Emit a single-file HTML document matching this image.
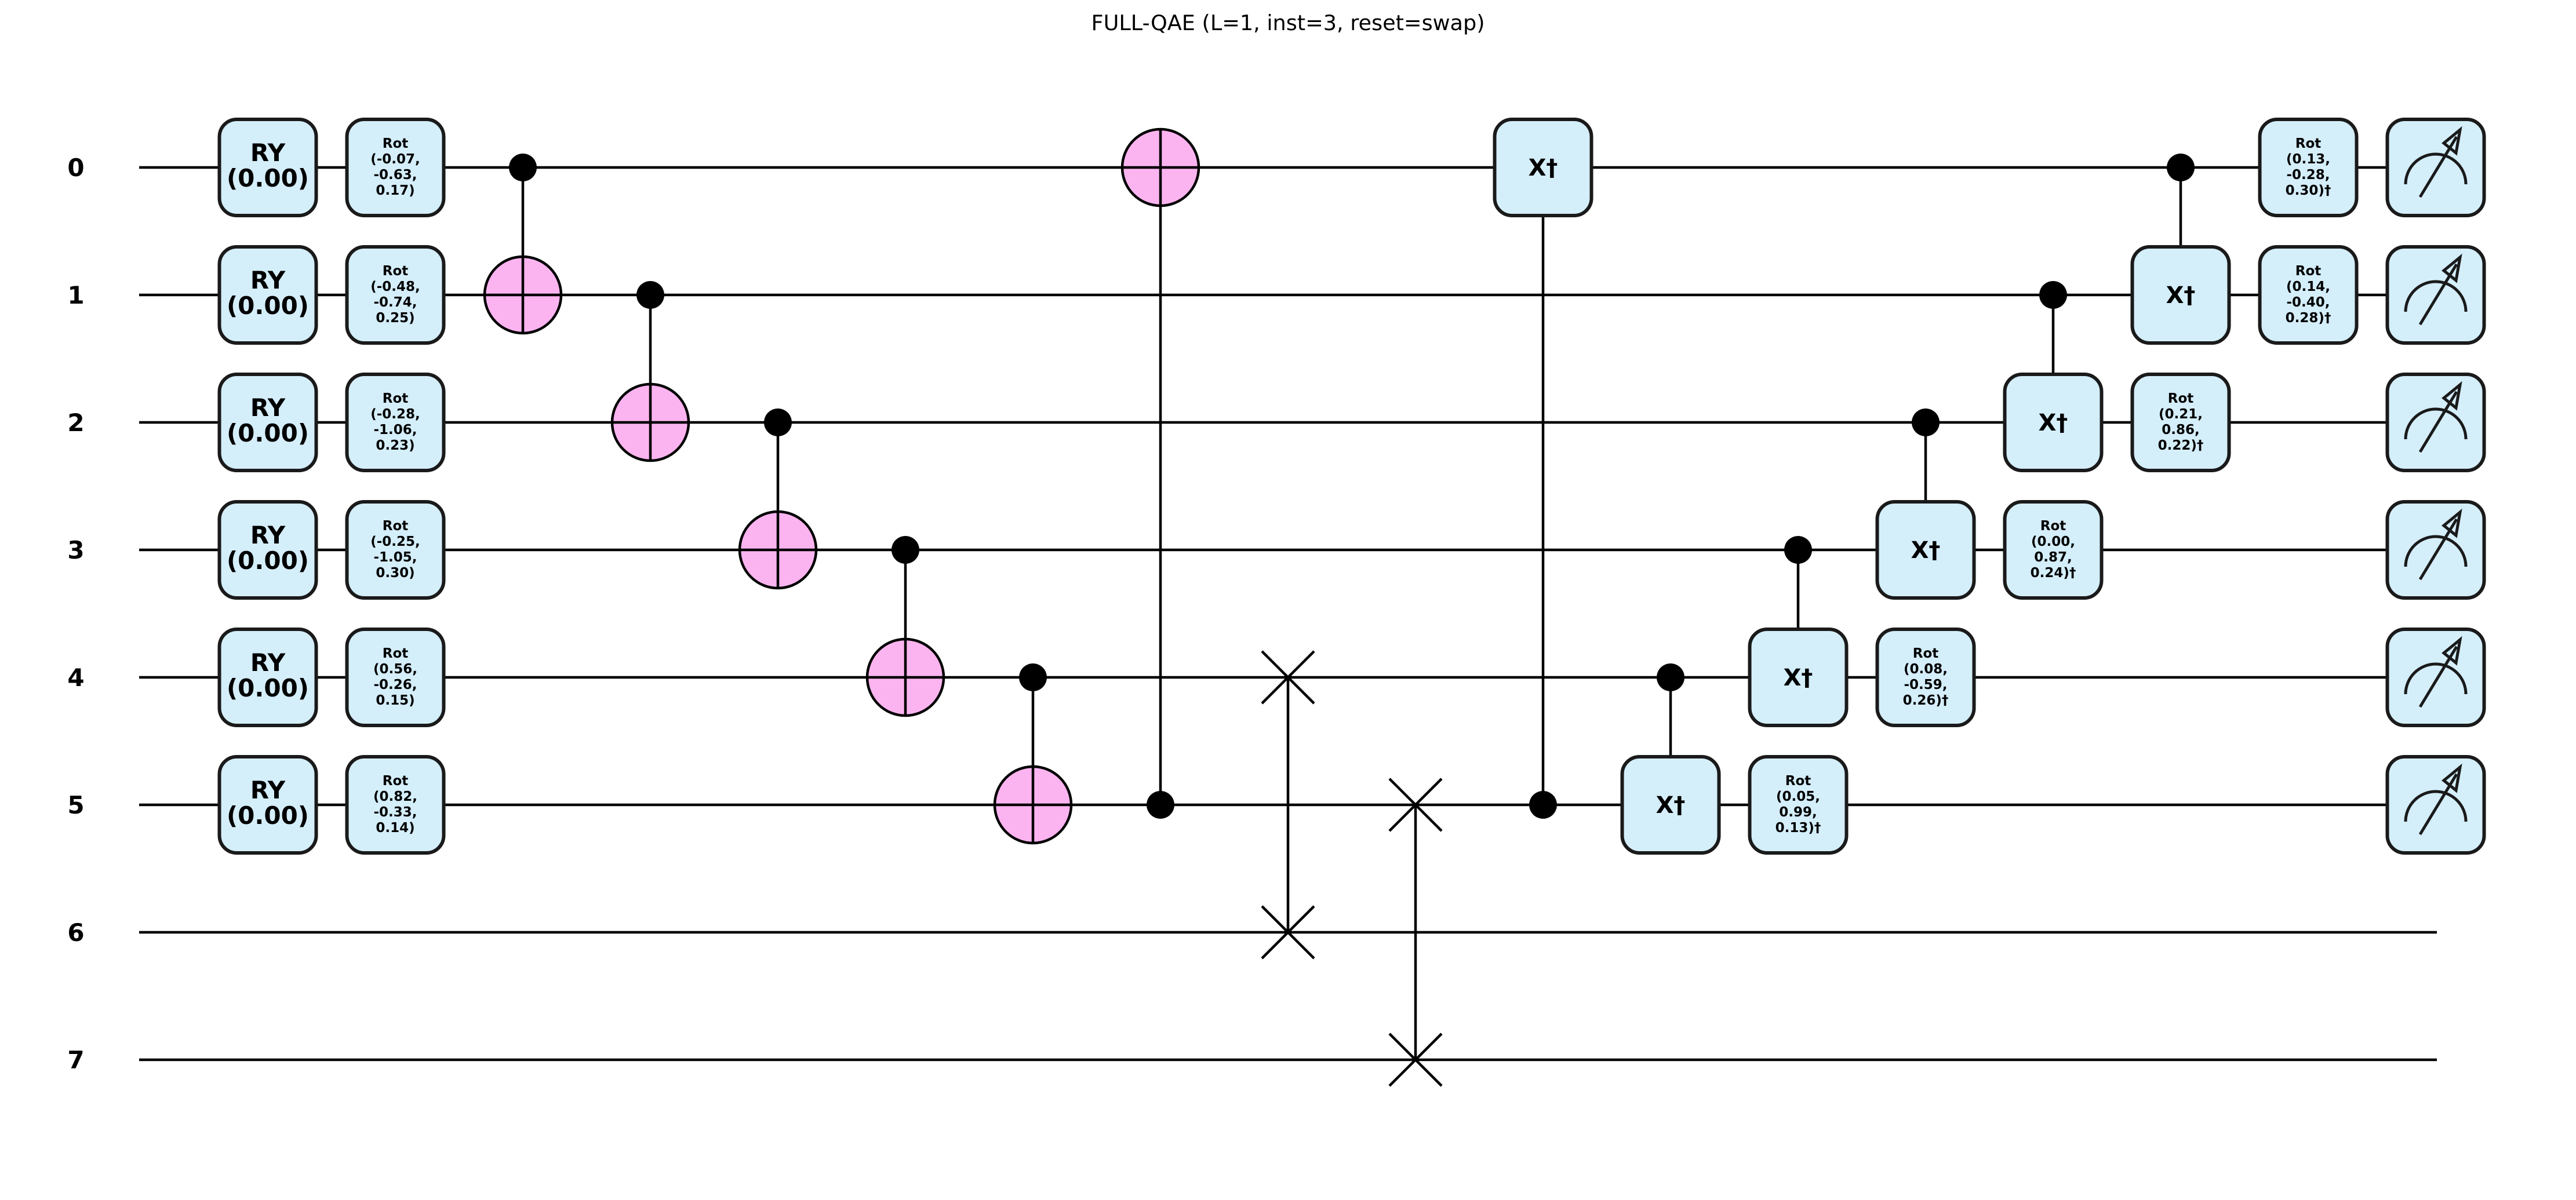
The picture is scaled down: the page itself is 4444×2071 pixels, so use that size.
<!DOCTYPE html>
<html><head><meta charset="utf-8"><style>
html,body{margin:0;padding:0;background:#fff}
svg{display:block}
text{font-family:"DejaVu Sans","Liberation Sans",sans-serif;fill:#000}
.b{fill:#d4eefa;stroke:#1a1a1a;stroke-width:6}
.w{stroke:#000;stroke-width:4.5;fill:none}
.t{fill:#fbb4f0;stroke:#000;stroke-width:4.5}
.lb{font-weight:bold;font-size:42px;text-anchor:middle}
.ry{font-weight:bold;font-size:42px;text-anchor:middle}
.rot{font-weight:bold;font-size:23px;text-anchor:middle}
.x{font-weight:bold;font-size:40px;text-anchor:middle}
.m{stroke:#1a1a1a;stroke-width:5;fill:none}
</style></head><body>
<svg width="4444" height="2071" viewBox="0 0 4444 2071" xmlns="http://www.w3.org/2000/svg">
<defs>
<g id="meas">
<rect class="b" x="-83.5" y="-83" width="167" height="166" rx="30"/>
<path class="m" d="M-52,29 A52,52 0 0 1 52,29"/>
<path class="m" d="M-27,51 L36,-53"/>
<path class="m" d="M42,-65 L35,-25 L14,-42 Z"/>
</g>
</defs>
<text x="2222" y="52" style="font-size:36.6px;text-anchor:middle">FULL-QAE (L=1, inst=3, reset=swap)</text>

<text class="lb" x="131" y="304">0</text>
<text class="lb" x="131" y="524">1</text>
<text class="lb" x="131" y="744">2</text>
<text class="lb" x="131" y="964">3</text>
<text class="lb" x="131" y="1184">4</text>
<text class="lb" x="131" y="1404">5</text>
<text class="lb" x="131" y="1624">6</text>
<text class="lb" x="131" y="1844">7</text>

<g class="w">
<line x1="240" y1="289" x2="4202" y2="289"/>
<line x1="240" y1="509" x2="4202" y2="509"/>
<line x1="240" y1="729" x2="4202" y2="729"/>
<line x1="240" y1="949" x2="4202" y2="949"/>
<line x1="240" y1="1169" x2="4202" y2="1169"/>
<line x1="240" y1="1389" x2="4202" y2="1389"/>
<line x1="240" y1="1609" x2="4204" y2="1609"/>
<line x1="240" y1="1829" x2="4204" y2="1829"/>
<line x1="902" y1="289" x2="902" y2="575"/>
<line x1="1122" y1="509" x2="1122" y2="795"/>
<line x1="1342" y1="729" x2="1342" y2="1015"/>
<line x1="1562" y1="949" x2="1562" y2="1235"/>
<line x1="1782" y1="1169" x2="1782" y2="1455"/>
<line x1="2002" y1="223" x2="2002" y2="1389"/>
<line x1="2222" y1="1169" x2="2222" y2="1609"/>
<line x1="2442" y1="1389" x2="2442" y2="1829"/>
<line x1="2662" y1="289" x2="2662" y2="1389"/>
<line x1="2882" y1="1169" x2="2882" y2="1306"/>
<line x1="3102" y1="949" x2="3102" y2="1086"/>
<line x1="3322" y1="729" x2="3322" y2="866"/>
<line x1="3542" y1="509" x2="3542" y2="646"/>
<line x1="3762" y1="289" x2="3762" y2="426"/>
<path d="M2177,1124 L2267,1214 M2267,1124 L2177,1214 M2177,1564 L2267,1654 M2267,1564 L2177,1654"/>
<path d="M2397,1344 L2487,1434 M2487,1344 L2397,1434 M2397,1784 L2487,1874 M2487,1784 L2397,1874"/>
</g>

<g fill="#000">
<circle cx="902" cy="289" r="24"/>
<circle cx="1122" cy="509" r="24"/>
<circle cx="1342" cy="729" r="24"/>
<circle cx="1562" cy="949" r="24"/>
<circle cx="1782" cy="1169" r="24"/>
<circle cx="2002" cy="1389" r="24"/>
<circle cx="2662" cy="1389" r="24"/>
<circle cx="2882" cy="1169" r="24"/>
<circle cx="3102" cy="949" r="24"/>
<circle cx="3322" cy="729" r="24"/>
<circle cx="3542" cy="509" r="24"/>
<circle cx="3762" cy="289" r="24"/>
</g>

<g>
<circle class="t" cx="902" cy="509" r="66"/><path class="w" d="M836,509 H968 M902,443 V575"/>
<circle class="t" cx="1122" cy="729" r="66"/><path class="w" d="M1056,729 H1188 M1122,663 V795"/>
<circle class="t" cx="1342" cy="949" r="66"/><path class="w" d="M1276,949 H1408 M1342,883 V1015"/>
<circle class="t" cx="1562" cy="1169" r="66"/><path class="w" d="M1496,1169 H1628 M1562,1103 V1235"/>
<circle class="t" cx="1782" cy="1389" r="66"/><path class="w" d="M1716,1389 H1848 M1782,1323 V1455"/>
<circle class="t" cx="2002" cy="289" r="66"/><path class="w" d="M1936,289 H2068 M2002,223 V355"/>
</g>

<g>
<rect class="b" x="378.5" y="206" width="167" height="166" rx="30"/><text class="ry" x="462" y="278">RY</text><text class="ry" x="462" y="322">(0.00)</text>
<rect class="b" x="378.5" y="426" width="167" height="166" rx="30"/><text class="ry" x="462" y="498">RY</text><text class="ry" x="462" y="542">(0.00)</text>
<rect class="b" x="378.5" y="646" width="167" height="166" rx="30"/><text class="ry" x="462" y="718">RY</text><text class="ry" x="462" y="762">(0.00)</text>
<rect class="b" x="378.5" y="866" width="167" height="166" rx="30"/><text class="ry" x="462" y="938">RY</text><text class="ry" x="462" y="982">(0.00)</text>
<rect class="b" x="378.5" y="1086" width="167" height="166" rx="30"/><text class="ry" x="462" y="1158">RY</text><text class="ry" x="462" y="1202">(0.00)</text>
<rect class="b" x="378.5" y="1306" width="167" height="166" rx="30"/><text class="ry" x="462" y="1378">RY</text><text class="ry" x="462" y="1422">(0.00)</text>
</g>

<g>
<rect class="b" x="598.5" y="206" width="167" height="166" rx="30"/>
<text class="rot" x="682" y="255">Rot</text><text class="rot" x="682" y="282">(-0.07,</text><text class="rot" x="682" y="309">-0.63,</text><text class="rot" x="682" y="336">0.17)</text>
<rect class="b" x="598.5" y="426" width="167" height="166" rx="30"/>
<text class="rot" x="682" y="475">Rot</text><text class="rot" x="682" y="502">(-0.48,</text><text class="rot" x="682" y="529">-0.74,</text><text class="rot" x="682" y="556">0.25)</text>
<rect class="b" x="598.5" y="646" width="167" height="166" rx="30"/>
<text class="rot" x="682" y="695">Rot</text><text class="rot" x="682" y="722">(-0.28,</text><text class="rot" x="682" y="749">-1.06,</text><text class="rot" x="682" y="776">0.23)</text>
<rect class="b" x="598.5" y="866" width="167" height="166" rx="30"/>
<text class="rot" x="682" y="915">Rot</text><text class="rot" x="682" y="942">(-0.25,</text><text class="rot" x="682" y="969">-1.05,</text><text class="rot" x="682" y="996">0.30)</text>
<rect class="b" x="598.5" y="1086" width="167" height="166" rx="30"/>
<text class="rot" x="682" y="1135">Rot</text><text class="rot" x="682" y="1162">(0.56,</text><text class="rot" x="682" y="1189">-0.26,</text><text class="rot" x="682" y="1216">0.15)</text>
<rect class="b" x="598.5" y="1306" width="167" height="166" rx="30"/>
<text class="rot" x="682" y="1355">Rot</text><text class="rot" x="682" y="1382">(0.82,</text><text class="rot" x="682" y="1409">-0.33,</text><text class="rot" x="682" y="1436">0.14)</text>
</g>

<g>
<rect class="b" x="2578.5" y="206" width="167" height="166" rx="30"/><text class="x" x="2662" y="303">X†</text>
<rect class="b" x="2798.5" y="1306" width="167" height="166" rx="30"/><text class="x" x="2882" y="1403">X†</text>
<rect class="b" x="3018.5" y="1086" width="167" height="166" rx="30"/><text class="x" x="3102" y="1183">X†</text>
<rect class="b" x="3238.5" y="866" width="167" height="166" rx="30"/><text class="x" x="3322" y="963">X†</text>
<rect class="b" x="3458.5" y="646" width="167" height="166" rx="30"/><text class="x" x="3542" y="743">X†</text>
<rect class="b" x="3678.5" y="426" width="167" height="166" rx="30"/><text class="x" x="3762" y="523">X†</text>
</g>

<g>
<rect class="b" x="3018.5" y="1306" width="167" height="166" rx="30"/>
<text class="rot" x="3102" y="1355">Rot</text><text class="rot" x="3102" y="1382">(0.05,</text><text class="rot" x="3102" y="1409">0.99,</text><text class="rot" x="3102" y="1436">0.13)†</text>
<rect class="b" x="3238.5" y="1086" width="167" height="166" rx="30"/>
<text class="rot" x="3322" y="1135">Rot</text><text class="rot" x="3322" y="1162">(0.08,</text><text class="rot" x="3322" y="1189">-0.59,</text><text class="rot" x="3322" y="1216">0.26)†</text>
<rect class="b" x="3458.5" y="866" width="167" height="166" rx="30"/>
<text class="rot" x="3542" y="915">Rot</text><text class="rot" x="3542" y="942">(0.00,</text><text class="rot" x="3542" y="969">0.87,</text><text class="rot" x="3542" y="996">0.24)†</text>
<rect class="b" x="3678.5" y="646" width="167" height="166" rx="30"/>
<text class="rot" x="3762" y="695">Rot</text><text class="rot" x="3762" y="722">(0.21,</text><text class="rot" x="3762" y="749">0.86,</text><text class="rot" x="3762" y="776">0.22)†</text>
<rect class="b" x="3898.5" y="426" width="167" height="166" rx="30"/>
<text class="rot" x="3982" y="475">Rot</text><text class="rot" x="3982" y="502">(0.14,</text><text class="rot" x="3982" y="529">-0.40,</text><text class="rot" x="3982" y="556">0.28)†</text>
<rect class="b" x="3898.5" y="206" width="167" height="166" rx="30"/>
<text class="rot" x="3982" y="255">Rot</text><text class="rot" x="3982" y="282">(0.13,</text><text class="rot" x="3982" y="309">-0.28,</text><text class="rot" x="3982" y="336">0.30)†</text>
</g>

<use href="#meas" x="4202" y="289"/>
<use href="#meas" x="4202" y="509"/>
<use href="#meas" x="4202" y="729"/>
<use href="#meas" x="4202" y="949"/>
<use href="#meas" x="4202" y="1169"/>
<use href="#meas" x="4202" y="1389"/>
</svg>
</body></html>
